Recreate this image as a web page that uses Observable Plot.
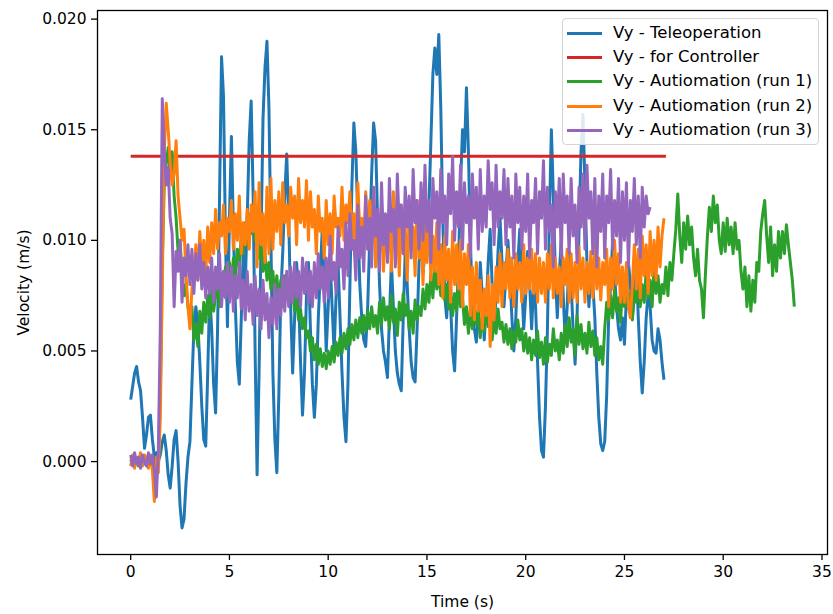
<!DOCTYPE html>
<html>
<head>
<meta charset="utf-8">
<script src="https://cdn.jsdelivr.net/npm/d3@7"></script>
<script src="https://cdn.jsdelivr.net/npm/@observablehq/plot@0.6"></script>
<style>
  html, body { margin: 0; padding: 0; background: #fff; }
  #wrap { position: relative; width: 833px; height: 614px; font-family: "DejaVu Sans", sans-serif; }
  #legend { position: absolute; left: 562px; top: 18px; width: 257px; height: 127px;
    border: 1px solid #d4d4d4; border-radius: 4px; background: rgba(255,255,255,0.85); box-sizing: border-box; }
  .row { position: absolute; left: 0; height: 20px; width: 100%; }
  .handle { position: absolute; left: 4px; top: 9px; width: 35px; height: 3px; }
  .label { position: absolute; left: 50px; top: 0; line-height: 20px; font-size: 16.5px; color: #000; white-space: nowrap; }
</style>
</head>
<body>
<div id="wrap"><div id="legend"></div></div>
<script>
// sampling interval of all measured series (s)
const timeStep = 0.1;

// Vy - Teleoperation (mm/s), t = 0 .. 27.0 s
const teleoperation = [
  2.8,3.4,4.0,4.3,3.6,3.2,2.0,0.6,1.2,2.0,
  2.1,1.0,0.2,0.4,0.0,0.3,0.9,1.2,0.5,-0.6,
  -1.2,-0.2,1.0,1.4,0.0,-2.0,-3.0,-2.6,-1.0,0.2,
  0.9,3.5,6.0,7.0,6.2,4.5,2.5,1.0,0.7,4.0,
  7.6,6.0,3.5,2.2,6.0,12.0,18.3,16.5,10.0,6.1,
  11.0,14.7,10.5,7.0,4.5,3.5,6.5,9.5,8.0,11.0,
  14.5,16.3,12.0,5.0,-0.6,4.0,10.0,15.5,17.8,19.0,
  16.0,10.0,4.0,1.0,-0.5,3.0,7.5,9.5,12.0,13.9,
  11.0,7.0,4.0,6.5,9.0,7.5,4.5,2.1,4.0,7.5,
  9.0,6.0,3.5,2.0,3.5,6.5,8.5,10.5,8.0,5.0,
  7.0,9.0,7.0,5.0,7.5,9.0,6.5,4.0,2.0,0.9,
  3.5,8.0,12.5,15.3,14.0,11.0,8.0,6.5,5.5,5.2,
  7.0,10.0,13.0,15.3,14.5,11.0,8.0,6.0,5.0,4.5,
  3.8,6.5,9.0,7.0,5.0,4.0,3.5,3.2,6.5,9.5,
  8.0,6.0,4.5,3.8,3.6,6.0,9.0,10.5,8.5,9.5,
  9.5,11.5,14.5,17.5,18.7,17.5,19.3,16.0,11.0,7.5,
  6.5,8.5,7.0,5.0,4.1,6.5,9.0,12.5,15.0,14.0,
  16.9,14.0,10.0,7.0,6.0,5.4,6.5,9.0,7.5,5.5,
  7.0,9.0,10.5,8.0,6.0,7.5,9.5,11.0,9.0,7.0,
  8.5,10.0,8.5,6.5,5.0,6.5,9.0,10.5,8.0,6.0,
  7.5,9.5,8.0,6.0,8.0,7.0,4.5,2.0,0.5,0.2,
  2.5,6.0,11.0,15.0,12.0,8.5,6.5,8.5,10.0,7.5,
  5.5,7.0,9.5,8.0,6.0,4.4,6.5,10.5,14.0,15.7,
  12.5,9.0,7.0,8.5,8.0,6.5,4.0,2.0,0.8,0.5,
  0.9,3.0,6.5,8.0,10.0,8.5,7.0,6.0,5.5,6.5,
  5.3,7.5,9.0,8.0,6.5,7.5,9.0,6.5,4.5,3.1,
  4.5,6.5,7.6,7.0,5.5,5.0,4.9,6.0,5.5,4.5,
  3.7
];

// Vy - for Controller (mm/s)
const controllerTime = [0, 27.1];
const controllerVel = [13.8, 13.8];

// Vy - Autiomation (run 1) (mm/s), t = 0 .. 33.6 s
const automation1 = [
  0.1,-0.1,0.2,0.0,-0.2,0.1,0.0,-0.1,0.2,0.0,
  0.1,-0.1,0.0,0.2,0.1,3.0,9.0,12.5,13.5,14.2,
  13.0,14.0,12.0,11.0,9.5,10.0,8.5,7.5,8.0,7.0,
  6.5,7.0,5.5,6.2,5.2,6.8,5.8,7.2,6.3,7.5,
  6.5,7.8,6.8,7.5,8.2,7.0,8.5,7.5,8.8,7.8,
  9.0,8.0,9.2,8.4,9.6,8.8,10.2,9.4,10.8,9.8,
  11.2,10.3,11.6,10.0,10.8,9.2,9.8,8.6,9.4,8.2,
  9.0,7.8,8.6,7.4,8.4,7.2,8.2,7.0,8.4,7.6,
  8.2,7.2,7.8,6.8,7.4,6.4,6.9,6.0,6.5,5.6,
  5.9,5.0,5.6,4.6,5.3,4.4,5.1,4.3,4.9,4.2,
  5.0,4.4,5.2,4.5,5.4,4.8,5.6,4.9,5.8,5.1,
  6.0,5.3,6.2,5.5,6.4,5.6,6.5,5.8,6.6,5.9,
  6.8,6.0,7.0,6.1,6.6,5.8,7.2,6.2,7.4,6.4,
  7.0,6.0,7.5,6.3,6.9,5.7,7.2,6.4,7.6,6.6,
  7.1,6.0,6.8,5.8,7.3,6.4,7.0,6.6,7.8,6.9,
  8.0,7.2,8.5,7.4,8.8,7.8,8.6,7.5,8.4,7.3,
  8.0,6.9,7.8,6.6,7.6,6.8,8.2,7.0,7.4,6.2,
  7.0,5.8,6.9,6.0,7.2,6.2,6.8,5.6,6.6,5.9,
  7.0,6.1,6.6,5.5,6.4,5.8,6.9,6.0,6.3,5.4,
  6.2,5.3,6.0,5.1,5.9,5.4,6.4,5.5,6.0,5.0,
  5.8,4.9,5.6,4.6,5.5,4.8,5.9,4.7,5.4,4.4,
  5.6,4.5,5.3,4.8,6.0,5.0,5.5,4.6,5.8,4.9,
  6.2,5.2,6.5,5.4,6.0,4.8,6.6,5.3,6.2,5.1,
  5.8,4.9,6.3,5.2,5.9,4.8,5.6,4.6,5.2,4.4,
  6.0,7.2,6.4,7.5,6.5,7.8,6.8,7.4,6.3,7.9,
  7.0,8.2,6.9,7.6,6.4,7.8,7.2,8.4,7.0,8.0,
  7.2,8.6,7.4,8.2,7.0,8.8,7.6,8.4,7.2,8.0,
  7.6,8.8,7.5,9.0,8.2,9.4,10.5,12.1,10.2,9.0,
  10.8,9.6,11.1,9.8,10.6,9.2,8.4,9.6,8.2,7.8,
  6.5,8.5,10.2,11.5,10.4,12.0,10.8,11.6,10.0,9.4,
  10.8,9.5,11.0,9.8,10.6,9.4,10.8,9.6,10.0,8.6,
  7.8,8.8,7.0,8.4,6.8,8.2,7.2,9.0,8.6,10.4,
  11.2,11.8,10.2,9.0,10.6,8.4,9.8,8.6,10.4,9.2,
  10.4,9.4,10.7,9.8,9.0,8.2,7.0
];

// Vy - Autiomation (run 2) (mm/s), t = 0 .. 27.0 s
const automation2 = [
  -0.2,0.3,-0.3,0.2,-0.1,0.4,-0.2,0.3,0.0,-0.3,
  0.3,-0.4,-1.8,0.2,-0.5,2.0,8.0,14.0,16.2,15.0,
  13.5,12.5,13.0,14.5,12.0,11.0,10.0,10.5,8.5,7.0,
  6.0,7.8,8.4,9.8,8.2,10.4,8.8,10.0,8.4,10.6,
  9.0,10.8,9.4,11.4,9.6,10.8,10.2,11.6,9.4,11.0,
  10.4,11.8,9.6,11.2,10.0,12.0,9.4,10.8,9.8,11.4,
  9.6,11.6,10.4,12.2,8.8,12.6,9.8,11.2,9.0,12.4,
  9.4,12.8,9.6,11.8,10.4,12.2,9.8,12.6,10.8,11.6,
  10.2,12.4,11.0,12.0,9.8,12.8,10.8,11.8,10.6,12.7,
  10.0,12.2,10.6,11.4,9.4,12.0,10.4,11.0,9.2,11.8,
  9.8,11.2,9.4,12.0,10.6,11.0,10.2,12.4,10.0,11.6,
  10.8,12.2,10.0,11.2,9.6,12.6,10.4,11.0,9.8,12.2,
  9.6,11.8,9.8,12.4,8.8,11.2,9.4,11.6,8.6,11.0,
  9.2,11.6,8.6,12.2,9.8,10.8,8.4,11.6,9.4,10.6,
  8.2,11.2,9.6,10.6,8.4,11.8,9.2,10.4,8.0,11.0,
  9.0,11.4,8.2,10.2,8.6,10.8,8.0,9.8,7.4,10.2,
  8.2,9.6,7.2,10.4,8.0,9.8,7.8,10.0,7.0,9.4,
  8.0,9.8,6.6,8.8,6.4,9.0,6.8,8.2,6.0,7.8,
  6.6,8.4,5.2,8.0,6.4,8.8,7.2,9.4,7.0,9.0,
  7.8,9.6,7.4,9.2,7.0,9.4,7.8,9.0,7.2,9.8,
  7.6,9.2,7.8,9.6,7.6,9.4,7.2,9.2,7.6,9.0,
  7.2,9.4,7.8,9.8,7.4,9.2,7.6,8.8,7.0,9.2,
  8.0,9.6,7.2,9.4,7.4,9.0,7.2,9.7,7.8,9.2,
  7.2,9.0,7.6,9.5,7.4,9.8,7.8,9.2,7.3,9.0,
  8.0,9.6,7.0,9.2,7.8,10.0,8.0,9.4,7.2,8.8,
  7.2,9.0,7.0,6.5,8.0,9.8,7.8,9.6,7.4,10.2,
  8.4,9.8,7.6,10.4,8.4,10.0,8.2,10.6,8.8,10.2,
  11.0
];

// Vy - Autiomation (run 3) (mm/s), t = 0 .. 26.3 s
const automation3 = [
  0.3,-0.2,0.4,-0.1,0.2,-0.3,0.3,0.0,-0.2,0.4,
  -0.1,0.3,-0.4,-1.6,0.5,6.0,16.4,14.0,12.5,13.3,
  11.0,10.3,7.0,9.5,8.6,10.0,7.2,9.2,8.4,9.8,
  8.0,9.6,7.6,9.4,8.2,9.8,7.8,9.0,7.4,8.8,
  7.6,9.2,7.2,8.8,7.8,9.4,7.0,8.6,7.4,9.0,
  7.2,8.8,6.8,8.4,7.4,9.0,6.9,8.2,6.4,8.6,
  6.8,8.0,6.2,8.4,6.6,7.8,6.0,8.2,6.4,7.6,
  5.6,7.4,6.2,8.0,6.0,7.8,6.6,8.4,6.8,8.6,
  7.0,8.8,7.2,9.0,7.4,8.6,7.0,9.2,7.6,9.0,
  7.2,8.6,7.0,9.0,7.4,9.4,7.8,8.8,7.2,9.2,
  7.4,10.2,8.2,9.0,7.6,10.6,8.8,9.6,7.8,10.8,
  8.4,11.2,9.6,10.0,8.2,11.6,9.2,10.6,8.6,12.0,
  9.6,11.0,8.8,12.4,10.2,11.4,8.6,12.6,9.8,11.2,
  9.0,12.8,10.4,11.4,8.8,13.0,10.6,11.6,9.4,12.4,
  10.6,12.0,9.2,13.2,10.8,11.8,9.6,12.6,10.0,13.4,
  10.4,11.8,9.0,12.8,11.0,12.2,9.6,13.2,10.8,12.0,
  9.8,13.0,11.2,13.8,10.0,12.2,10.6,13.4,9.6,12.6,
  10.8,12.0,9.2,13.0,11.0,12.4,9.6,13.2,10.4,12.0,
  10.6,13.6,11.4,12.6,9.8,13.4,10.6,12.2,11.0,13.2,
  9.8,12.8,10.6,12.0,9.2,13.0,10.8,12.4,9.6,12.0,
  10.4,13.0,9.2,11.8,10.8,12.8,9.4,12.2,11.0,13.6,
  9.6,12.4,10.4,11.6,8.8,12.2,10.6,12.8,9.2,13.0,
  10.8,12.0,9.4,12.8,10.2,11.6,9.0,12.4,10.6,13.0,
  9.6,13.4,11.0,12.2,9.4,12.8,8.8,12.0,10.4,13.0,
  9.2,12.0,10.8,13.2,9.6,11.8,10.2,12.8,9.0,12.2,
  10.0,12.6,8.8,11.8,10.4,12.8,9.8,12.0,9.2,12.4,
  10.6,12.0,11.2,11.5
];

const seriesNames = [
  "Vy - Teleoperation",
  "Vy - for Controller",
  "Vy - Autiomation (run 1)",
  "Vy - Autiomation (run 2)",
  "Vy - Autiomation (run 3)"
];
const seriesColors = ["#1f77b4", "#d62728", "#2ca02c", "#ff7f0e", "#9467bd"];

const xTicks = [0, 5, 10, 15, 20, 25, 30, 35];
const yTicks = [0.000, 0.005, 0.010, 0.015, 0.020];

// build tables (mm/s -> m/s)
const toRows = arr => arr.map((v, i) => ({t: i * timeStep, v: v / 1000}));
const teleRows = toRows(teleoperation);
const ctrlRows = controllerTime.map((t, i) => ({t, v: controllerVel[i] / 1000}));
const a1Rows = toRows(automation1);
const a2Rows = toRows(automation2);
const a3Rows = toRows(automation3);

const lineOpts = (c) => ({x: "t", y: "v", stroke: c, strokeWidth: 3, strokeLinejoin: "round", strokeLinecap: "butt"});

const chart = Plot.plot({
  width: 833,
  height: 614,
  marginLeft: 97,
  marginRight: 6,
  marginTop: 10,
  marginBottom: 60,
  style: {fontFamily: "DejaVu Sans, sans-serif", fontSize: "15.5px", color: "#000", background: "#fff"},
  x: {domain: [-1.68, 35.28]},
  y: {domain: [-0.0042, 0.02039]},
  marks: [
    Plot.line(teleRows, lineOpts(seriesColors[0])),
    Plot.line(ctrlRows, lineOpts(seriesColors[1])),
    Plot.line(a1Rows, lineOpts(seriesColors[2])),
    Plot.line(a2Rows, lineOpts(seriesColors[3])),
    Plot.line(a3Rows, lineOpts(seriesColors[4])),
    Plot.frame({stroke: "#000", strokeWidth: 1.3}),
    Plot.axisX({ticks: xTicks, tickSize: 6, tickPadding: 5, strokeWidth: 1.3,
      label: "Time (s)", labelAnchor: "center", labelArrow: "none", labelOffset: 52}),
    Plot.axisY({ticks: yTicks, tickSize: 6, tickPadding: 5, strokeWidth: 1.3,
      tickFormat: d3.format(".3f"),
      label: "Velocity (m/s)", labelAnchor: "center", labelArrow: "none", labelOffset: 80})
  ]
});
document.getElementById("wrap").prepend(chart);

// legend
const legend = document.getElementById("legend");
seriesNames.forEach((name, i) => {
  const row = document.createElement("div");
  row.className = "row";
  row.style.top = Math.round(4 + i * 24.2) + "px";
  const h = document.createElement("div");
  h.className = "handle";
  h.style.background = seriesColors[i];
  const l = document.createElement("div");
  l.className = "label";
  l.textContent = name;
  row.appendChild(h);
  row.appendChild(l);
  legend.appendChild(row);
});
</script>
</body>
</html>
